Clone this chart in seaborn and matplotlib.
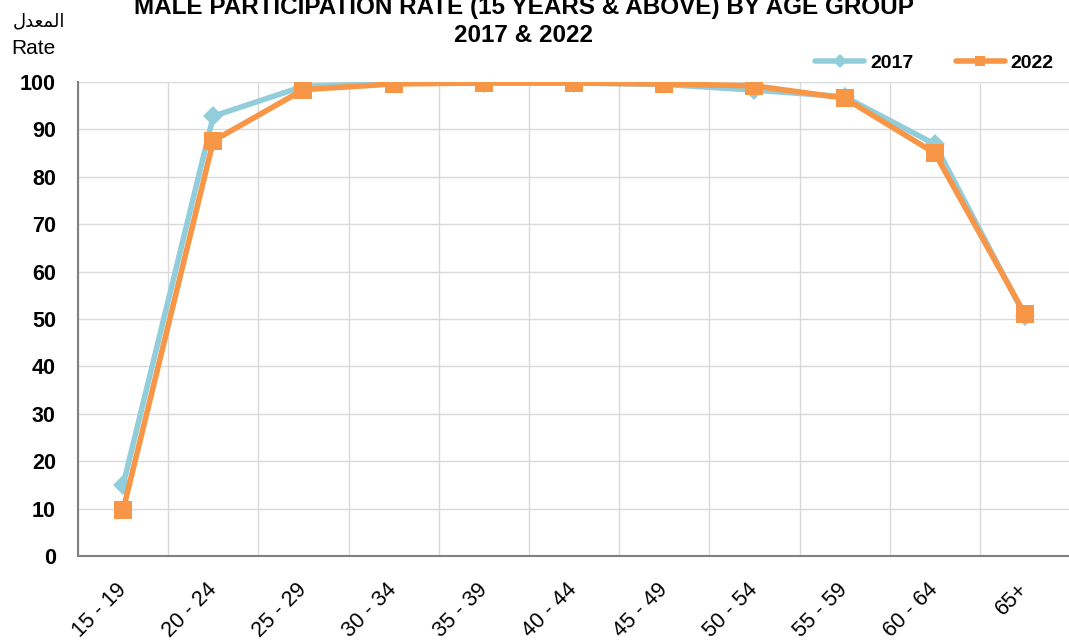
import numpy as np
import pandas as pd
import matplotlib
matplotlib.use('Agg')
import matplotlib.pyplot as plt
from matplotlib.lines import Line2D
import seaborn as sns

# age groups and participation rates
age_groups = ['15 - 19', '20 - 24', '25 - 29', '30 - 34', '35 - 39', '40 - 44',
              '45 - 49', '50 - 54', '55 - 59', '60 - 64', '65+']
rate_2017 = [15.0, 92.8, 99.1, 99.7, 99.8, 99.8, 99.5, 98.3, 96.9, 86.9, 50.6]
rate_2022 = [9.7, 87.6, 98.4, 99.6, 99.8, 99.8, 99.6, 99.2, 96.6, 85.0, 51.0]
years = ['2017', '2022']
y_ticks = [0, 10, 20, 30, 40, 50, 60, 70, 80, 90, 100]

df = pd.DataFrame({
    'pos': list(range(len(age_groups))) * 2,
    'rate': rate_2017 + rate_2022,
    'year': [years[0]] * len(age_groups) + [years[1]] * len(age_groups),
})

sns.set_style('white')
plt.rcParams['font.family'] = ['Liberation Sans', 'DejaVu Sans']
plt.rcParams['text.color'] = 'black'
plt.rcParams['xtick.labelcolor'] = 'black'
plt.rcParams['ytick.labelcolor'] = 'black'

fig = plt.figure(figsize=(10.69, 6.41), dpi=100)
ax = fig.add_axes([0.073, 0.1326, 0.928, 0.7394])

palette = {'2017': '#92CDDC', '2022': '#F79646'}
markers = {'2017': 'D', '2022': 's'}
sizes = {'2017': 10, '2022': 13}
for yr in years:
    sub = df[df['year'] == yr]
    sns.lineplot(data=sub, x='pos', y='rate', ax=ax, color=palette[yr],
                 marker=markers[yr], markersize=sizes[yr], markeredgewidth=0,
                 linewidth=4, legend=False)

ax.set_xlim(-0.5, len(age_groups) - 0.5)
ax.set_ylim(0, 100)

# gridlines at category boundaries, labels at centres
ax.set_xticks(np.arange(-0.5, len(age_groups) - 0.5, 1.0))
ax.set_xticklabels([])
ax.set_xticks(np.arange(len(age_groups)), minor=True)
ax.set_xticklabels(age_groups, minor=True, rotation=45, ha='right', va='center',
                   rotation_mode='anchor', fontsize=15.5)
ax.tick_params(axis='x', which='minor', length=0, pad=22)
ax.tick_params(axis='x', which='major', length=6, color='#808080', direction='out')
ax.set_yticks(y_ticks)
ax.set_yticklabels([str(v) for v in y_ticks], fontsize=15.5, fontweight='bold')
ax.tick_params(axis='y', length=6, color='#808080', direction='out', pad=10)

ax.grid(True, which='major', color='#D9D9D9', linewidth=1)
for s in ['top', 'right']:
    ax.spines[s].set_visible(False)
for s in ['left', 'bottom']:
    ax.spines[s].set_color('#808080')
    ax.spines[s].set_linewidth(1.5)

ax.set_xlabel('')
ax.set_ylabel('')

# legend with smaller markers than the plotted points
handles = [Line2D([], [], color=palette[yr], marker=markers[yr], markersize=7,
                  markeredgewidth=0, linewidth=4) for yr in years]
ax.legend(handles, years, loc='lower right', bbox_to_anchor=(0.991, 1.005), ncol=2,
          frameon=False, prop={'weight': 'bold', 'size': 14}, handlelength=2.5,
          columnspacing=2.2, handletextpad=0.3, borderaxespad=0)

# title, first line partly above the figure edge as in the source
fig.text(0.49, 0.978, 'MALE PARTICIPATION RATE (15 YEARS & ABOVE) BY AGE GROUP',
         ha='center', va='baseline', fontsize=17.5, fontweight='bold')
fig.text(0.49, 0.9345, '2017 & 2022',
         ha='center', va='baseline', fontsize=17.5, fontweight='bold')

# Arabic "المعدل" in presentation forms, visual order
fig.text(0.036, 0.967, '\uFEDD\uFEAA\uFECC\uFEE4\uFEDF\uFE8D', ha='center', va='center',
         fontsize=13, family=['DejaVu Sans'])
fig.text(0.031, 0.924, 'Rate', ha='center', va='center', fontsize=15)

fig.savefig('out.png', dpi=100)
